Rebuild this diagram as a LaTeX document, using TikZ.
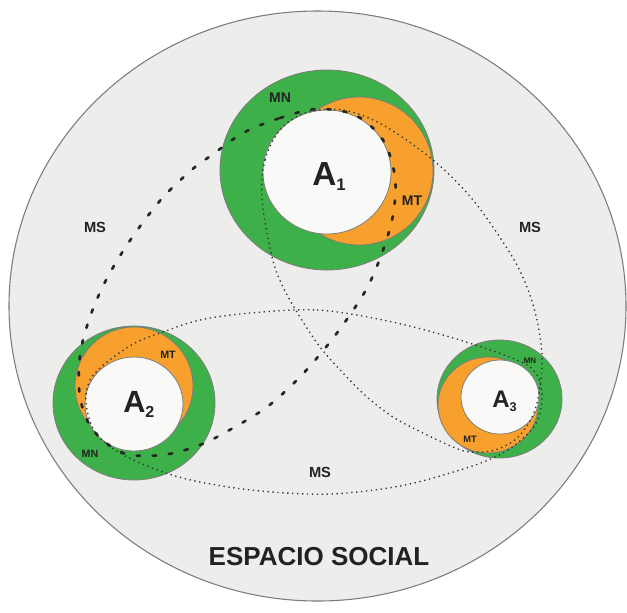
\documentclass[tikz,border=0pt]{standalone}
\usepackage{fontspec}
\setmainfont{Liberation Sans}
\definecolor{bgray}{HTML}{EDEDEB}
\definecolor{edgegray}{HTML}{7C7C7C}
\definecolor{mgreen}{HTML}{3EB049}
\definecolor{morange}{HTML}{F7A02D}
\definecolor{mwhite}{HTML}{F9F9F7}
\definecolor{txt}{HTML}{222222}
\newcommand{\fs}[1]{\fontsize{#1}{#1}\selectfont}
\begin{document}
\begin{tikzpicture}[x=0.75pt,y=-0.75pt,
  ring/.style={draw=edgegray, line width=0.6pt},
  thickdash/.style={draw=black!85, line width=2pt, line cap=round, dash pattern=on 2.6pt off 9.5pt},
  thindot/.style={draw=black!80, line width=1pt, dash pattern=on 1pt off 2.7pt},
  lbl/.style={text=txt, inner sep=0pt}]
\useasboundingbox (0,0) rectangle (627,612);
\fill[white] (0,0) rectangle (627,612);
\filldraw[fill=bgray, draw=edgegray, line width=0.8pt] (317.5,306) ellipse [x radius=308.5, y radius=295];
% A1
\filldraw[ring, fill=mgreen] (327,170) ellipse [x radius=107, y radius=100];
\filldraw[ring, fill=morange] (359,171) ellipse [x radius=74, y radius=74];
\filldraw[ring, fill=mwhite] (327,172) ellipse [x radius=64, y radius=62];
% A2
\filldraw[ring, fill=mgreen] (134,403) ellipse [x radius=81, y radius=77];
\filldraw[ring, fill=morange] (134,386) ellipse [x radius=59, y radius=59];
\filldraw[ring, fill=mwhite] (134,404) ellipse [x radius=49, y radius=47];
% A3
\filldraw[ring, fill=mgreen] (499.5,399) ellipse [x radius=62.5, y radius=59];
\filldraw[ring, fill=morange] (488,405) ellipse [x radius=50, y radius=48];
\filldraw[ring, fill=mwhite] (500,397) ellipse [x radius=39, y radius=37];
% MS loops
\draw[thickdash] plot[smooth cycle, tension=0.55] coordinates {
 (243,133) (280,118) (317,109) (355,115) (383,140) (395,177) (393,215) (382,253)
 (367,288) (345,322) (322,352) (297,380) (267,407) (233,428) (200,445) (162,455)
 (123,453) (93,430) (80,397) (80,355) (90,317) (105,282) (125,248) (147,217)
 (167,193) (195,167) (212,155)};
\draw[thindot] plot[smooth cycle, tension=0.55] coordinates {
 (262,200) (265,160) (280,130) (305,113) (343,110) (383,125) (433,160) (473,200)
 (510,253) (527,287) (537,320) (542,355) (540,387) (533,415) (517,438) (495,450)
 (470,452) (453,447) (423,433) (393,417) (367,397) (343,373) (320,347) (300,317)
 (283,287) (272,257)};
\draw[thindot] plot[smooth cycle, tension=0.55] coordinates {
 (250,313) (317,310) (383,320) (450,337) (517,360) (537,375) (542,400) (535,425)
 (515,445) (493,458) (460,470) (400,486) (330,494) (260,491) (200,482) (160,471)
 (120,453) (95,432) (86,403) (90,380) (107,362) (135,343) (163,332) (200,320)};
% labels
\node[lbl, anchor=base west, font=\bfseries\fs{25pt}] (a1) at (312,185) {A\raisebox{-3.75pt}{\fs{12.5pt}1}};
\node[lbl, anchor=base west, font=\bfseries\fs{23pt}] (a2) at (123,412) {A\raisebox{-3.75pt}{\fs{12pt}2}};
\node[lbl, anchor=base west, font=\bfseries\fs{18pt}] (a3) at (492,407) {A\raisebox{-3pt}{\fs{9.5pt}3}};
\node[lbl, font=\bfseries\fs{10.5pt}] (mn1) at (280,98) {MN};
\node[lbl, font=\bfseries\fs{10.5pt}] (mt1) at (412,201) {MT};
\node[lbl, font=\bfseries\fs{8pt}] (mt2) at (168,355) {MT};
\node[lbl, font=\bfseries\fs{8pt}] (mn2) at (90,454) {MN};
\node[lbl, font=\bfseries\fs{6pt}] (mn3) at (530,361) {MN};
\node[lbl, font=\bfseries\fs{7pt}] (mt3) at (470,439) {MT};
\node[lbl, font=\bfseries\fs{11pt}] (msl) at (95,227) {MS};
\node[lbl, font=\bfseries\fs{11pt}] (msr) at (530,227) {MS};
\node[lbl, font=\bfseries\fs{11pt}] (msb) at (320,472) {MS};
\node[lbl, font=\bfseries\fs{19.5pt}] (title) at (319,557) {ESPACIO SOCIAL};
\end{tikzpicture}
\end{document}
